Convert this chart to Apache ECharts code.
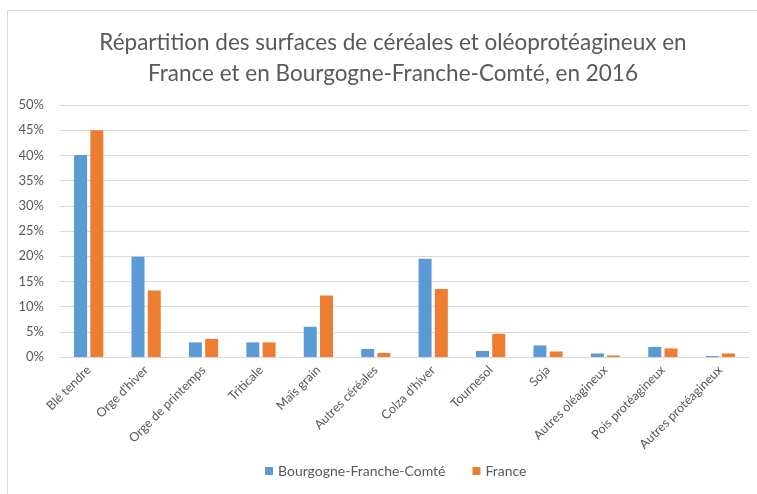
<!DOCTYPE html>
<html>
<head>
<meta charset="utf-8">
<script src="https://cdn.jsdelivr.net/npm/echarts@6/dist/echarts.min.js"></script>
<style>
  html, body { margin: 0; padding: 0; background: #fff; }
  #frame {
    position: absolute; left: 7px; top: 10px; width: 760px; height: 500px;
    border-left: 1px solid #d9d9d9; border-top: 1px solid #d9d9d9;
  }
  #chart { position: absolute; left: 0; top: 0; width: 757px; height: 494px; }
</style>
</head>
<body>
<div id="frame"></div>
<div id="chart"></div>
<script>
// Categories and values (share of area, %)
const categories = [
    'Blé tendre', "Orge d'hiver", 'Orge de printemps', 'Triticale', 'Maïs grain',
    'Autres céréales', "Colza d'hiver", 'Tournesol', 'Soja', 'Autres oléagineux',
    'Pois protéagineux', 'Autres protéagineux'
];
const bfcValues = [40.1, 19.9, 2.9, 2.9, 6.0, 1.6, 19.5, 1.2, 2.3, 0.7, 2.0, 0.2];
const franceValues = [45.0, 13.2, 3.6, 2.9, 12.2, 0.8, 13.5, 4.6, 1.1, 0.3, 1.7, 0.7];

const TEXT = '#595959';
const FONT = 'Lato';

const chart = echarts.init(document.getElementById('chart'), null, { renderer: 'canvas' });

chart.setOption({
    animation: false,
    title: {
        text: 'Répartition des surfaces de céréales et oléoprotéagineux en\nFrance et en Bourgogne-Franche-Comté, en 2016',
        left: 388,
        top: 22,
        textAlign: 'center',
        textStyle: { fontFamily: FONT, fontSize: 22.5, fontWeight: 'normal', color: TEXT, lineHeight: 31 }
    },
    legend: {
        bottom: 11,
        left: 260,
        itemWidth: 8,
        itemHeight: 8,
        itemGap: 27,
        icon: 'rect',
        textStyle: { fontFamily: FONT, fontSize: 14, color: TEXT },
        data: ['Bourgogne-Franche-Comté', 'France']
    },
    grid: { left: 60, right: 8, top: 105, bottom: 137, containLabel: false },
    xAxis: {
        type: 'category',
        data: categories,
        axisLine: { lineStyle: { color: '#d9d9d9' } },
        axisTick: { show: false },
        axisLabel: { rotate: 45, interval: 0, fontFamily: FONT, fontSize: 12.5, color: TEXT, margin: 11 }
    },
    yAxis: {
        type: 'value',
        min: 0,
        max: 50,
        interval: 5,
        axisLine: { show: false },
        axisTick: { show: false },
        splitLine: { lineStyle: { color: '#d9d9d9' } },
        axisLabel: { formatter: '{value}%', fontFamily: FONT, fontSize: 13, color: TEXT, margin: 16 }
    },
    series: [
        {
            name: 'Bourgogne-Franche-Comté',
            type: 'bar',
            data: bfcValues,
            barWidth: 13,
            barGap: '25%',
            itemStyle: { color: '#5B9BD5' }
        },
        {
            name: 'France',
            type: 'bar',
            data: franceValues,
            barWidth: 13,
            itemStyle: { color: '#ED7D31' }
        }
    ]
});
</script>
</body>
</html>
